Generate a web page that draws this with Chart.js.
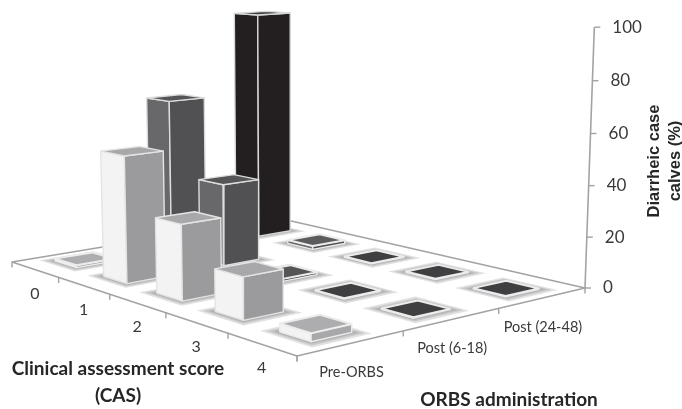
<!DOCTYPE html>
<html>
<head>
<meta charset="utf-8">
<style>
    html, body { margin: 0; padding: 0; background: #fff; }
    canvas { display: block; }
</style>
<script src="https://cdn.jsdelivr.net/npm/chart.js@4"></script>
</head>
<body>
<canvas id="chart" width="682" height="409"></canvas>
<script>
"use strict";

const casLabels = ['0', '1', '2', '3', '4'];
const orbsLabels = ['Pre-ORBS', 'Post (6-18)', 'Post (24-48)'];
const preOrbsValues = [1, 51, 29.5, 16, 3];
const postEarlyValues = [65, 34, 1, 0.3, 0.3];
const postLateValues = [99, 1.5, 0.3, 0.3, 0.3];
const valueTicks = [0, 20, 40, 60, 80, 100];

const seriesValues = [preOrbsValues, postEarlyValues, postLateValues];

// left, front, right, back corner of the floor
const floorCorners = [[12, 262], [297, 356], [585, 288], [278, 218]];
const barHalfCas = 0.045;
const barHalfOrbs = 0.064;
const shadowSteps = [0.030, 0.020, 0.011];

const faceColors = [
    { left: '#f3f3f3', right: '#9b9b9d', top: '#a8a8aa', edge: '#e4e4e4' },
    { left: '#68686b', right: '#515153', top: '#555557', edge: '#dcdcdc' },
    { left: '#231f20', right: '#231f20', top: '#3c3a3b', edge: '#d8d8d8' }
];
const flatColors = [
    { left: '#f3f3f3', right: '#a8a8aa', top: '#adadaf', edge: '#ececec' },
    { left: '#68686b', right: '#515153', top: '#555557', edge: '#ececec' },
    { left: '#68686b', right: '#515153', top: '#5c5c5e', edge: '#ececec' }
];
const emptyTop = '#3f3f41';

/********************************************************/
// floor square -> picture, with the height added in as a third axis
const homography = (function () {
    const [[x0, y0], [x1, y1], [x2, y2], [x3, y3]] = floorCorners;
    const dx1 = x1 - x2, dx2 = x3 - x2, sx = x0 - x1 + x2 - x3;
    const dy1 = y1 - y2, dy2 = y3 - y2, sy = y0 - y1 + y2 - y3;
    const det = dx1 * dy2 - dx2 * dy1;
    const g = (sx * dy2 - dx2 * sy) / det;
    const h = (dx1 * sy - sx * dy1) / det;
    return {
        a: x1 - x0 + g * x1, b: x3 - x0 + h * x3, c: x0,
        d: y1 - y0 + g * y1, e: y3 - y0 + h * y3, f: y0,
        g: g, h: h
    };
})();
const heightW = -2.85e-4;
const heightX = 295 * heightW;
const heightY = 8400 * heightW;

function project(s, t, z) {
    const m = homography;
    const w = 1 + m.g * s + m.h * t + heightW * z;
    return {
        x: (m.a * s + m.b * t + m.c + heightX * z) / w,
        y: (m.d * s + m.e * t + m.f + heightY * z) / w
    };
}

const datasets = [];

function addShape(points, fillColor, lineColor, lineWidth) {
    datasets.push({
        data: points,
        fill: fillColor ? 'shape' : false,
        backgroundColor: fillColor || 'transparent',
        borderColor: lineColor || 'transparent',
        borderWidth: lineWidth === undefined ? 1 : lineWidth,
        borderJoinStyle: 'round',
        pointRadius: 0,
        tension: 0,
        clip: false,
        order: 10000 - datasets.length
    });
}

function addFloor() {
    const axisColor = '#a3a3a5';
    const edge = [[0, 0], [1, 0], [1, 1], [0, 1], [0, 0]].map(p => project(p[0], p[1], 0));
    addShape(edge, null, axisColor, 1.6);
    for (let i = 0; i <= casLabels.length; i++) {
        const p = project(i / casLabels.length, 0, 0);
        addShape([p, { x: p.x, y: p.y + 5 }], null, axisColor, 1.4);
    }
    for (let j = 0; j <= orbsLabels.length; j++) {
        const p = project(1, j / orbsLabels.length, 0);
        addShape([p, { x: p.x, y: p.y + 5 }], null, axisColor, 1.4);
    }
    const axisBottom = project(1, 1, 0);
    const axisTop = project(1, 1, valueTicks[valueTicks.length - 1]);
    addShape([axisBottom, axisTop], null, axisColor, 1.6);
    valueTicks.forEach(v => {
        const p = project(1, 1, v);
        addShape([p, { x: p.x + 6, y: p.y }], null, axisColor, 1.4);
    });
}

function addBar(i, j, value) {
    const sMid = (i + 0.5) / casLabels.length;
    const tMid = (j + 0.5) / orbsLabels.length;
    const s0 = sMid - barHalfCas, s1 = sMid + barHalfCas;
    const t0 = tMid - barHalfOrbs, t1 = tMid + barHalfOrbs;
    const colors = value < 5 ? flatColors[j] : faceColors[j];
    const topColor = value < 0.5 ? emptyTop : colors.top;

    shadowSteps.forEach(step => {
        const ring = [[s0 - step, t0 - step], [s1 + step, t0 - step], [s1 + step, t1 + step], [s0 - step, t1 + step], [s0 - step, t0 - step]];
        addShape(ring.map(p => project(p[0], p[1], 0)), 'rgba(70,70,72,0.16)', null, 0);
    });

    const left = [[s0, t0, 0], [s1, t0, 0], [s1, t0, value], [s0, t0, value], [s0, t0, 0]];
    const right = [[s1, t0, 0], [s1, t1, 0], [s1, t1, value], [s1, t0, value], [s1, t0, 0]];
    const top = [[s0, t0, value], [s1, t0, value], [s1, t1, value], [s0, t1, value], [s0, t0, value]];
    const toPicture = p => project(p[0], p[1], p[2]);
    addShape(left.map(toPicture), colors.left, colors.edge, 1.4);
    addShape(right.map(toPicture), colors.right, colors.edge, 1.4);
    addShape(top.map(toPicture), topColor, colors.edge, value < 5 ? 2 : 1.4);
}

addFloor();
// back row first, then from the far end of each row
for (let j = seriesValues.length - 1; j >= 0; j--) {
    seriesValues[j].forEach((value, i) => addBar(i, j, value));
}

/********************************************************/
const textPlugin = {
    id: 'sceneText',
    afterDraw(chart) {
        const ctx = chart.ctx;
        const xs = chart.scales.x;
        const ys = chart.scales.y;

        function put(text, x, y, font, color, align) {
            ctx.font = font;
            ctx.fillStyle = color;
            ctx.textAlign = align || 'center';
            ctx.textBaseline = 'middle';
            ctx.fillText(text, xs.getPixelForValue(x), ys.getPixelForValue(y));
        }

        ctx.save();
        casLabels.forEach((label, i) => {
            const p = project((i + 0.5) / casLabels.length, 0, 0);
            put(label, p.x, p.y + 24, '16px Lato', '#3a3a3a');
        });
        orbsLabels.forEach((label, j) => {
            const p = project(1, (j + 0.5) / orbsLabels.length, 0);
            put(label, p.x, p.y + 29, '14.5px Lato', '#3a3a3a');
        });
        valueTicks.forEach(v => {
            const p = project(1, 1, v);
            put(String(v), p.x + 18, p.y, '17px Lato', '#3a3a3a', 'left');
        });

        put('Clinical assessment score', 118, 369, 'bold 19px Lato', '#262626');
        put('(CAS)', 118, 396, 'bold 19px Lato', '#262626');
        put('ORBS administration', 509, 400, 'bold 19px Lato', '#262626');

        ctx.translate(xs.getPixelForValue(654), ys.getPixelForValue(161));
        ctx.rotate(-Math.PI / 2);
        ctx.font = 'bold 16.5px "Liberation Sans"';
        ctx.fillStyle = '#262626';
        ctx.textAlign = 'center';
        ctx.textBaseline = 'middle';
        ctx.fillText('Diarrheic case', 0, 0);
        ctx.fillText('calves (%)', 0, 21);
        ctx.restore();
    }
};

new Chart(document.getElementById('chart'), {
    type: 'line',
    data: { datasets: datasets },
    options: {
        responsive: false,
        animation: false,
        events: [],
        layout: { padding: 0 },
        plugins: {
            legend: { display: false },
            tooltip: { enabled: false }
        },
        scales: {
            x: { type: 'linear', display: false, min: 0, max: 682 },
            y: { type: 'linear', display: false, min: 0, max: 409, reverse: true }
        }
    },
    plugins: [textPlugin]
});
</script>
</body>
</html>
